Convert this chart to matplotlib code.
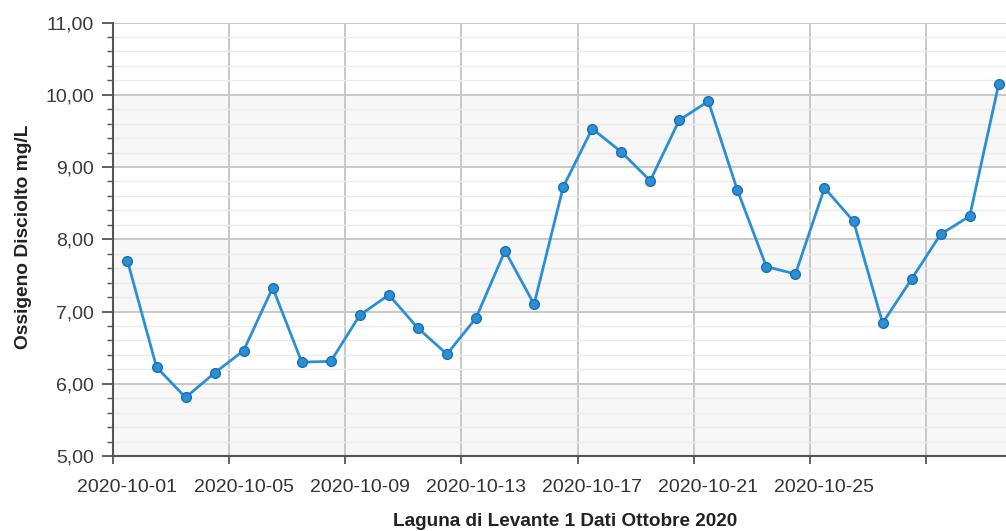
#!/usr/bin/env python3
"""Ossigeno disciolto, Laguna di Levante 1, ottobre 2020."""

import datetime as dt
import matplotlib
matplotlib.use('Agg')
import matplotlib.pyplot as plt
from matplotlib.ticker import FuncFormatter, MultipleLocator

plt.rcParams['font.family'] = ['Liberation Sans', 'DejaVu Sans']

days = list(range(1, 32))
oxygen = [7.70, 6.23, 5.81, 6.15, 6.46, 7.33, 6.30, 6.31, 6.95, 7.23,
          6.77, 6.41, 6.91, 7.84, 7.10, 8.72, 9.53, 9.21, 8.81, 9.65,
          9.91, 8.68, 7.62, 7.52, 8.71, 8.25, 6.84, 7.45, 8.07, 8.32,
          10.15]
tick_days = [1, 5, 9, 13, 17, 21, 25, 29]
tick_labels = ['2020-10-01', '2020-10-05', '2020-10-09', '2020-10-13',
               '2020-10-17', '2020-10-21', '2020-10-25', '']

dates = [dt.datetime(2020, 10, d, 12) for d in days]
tick_dates = [dt.datetime(2020, 10, d) for d in tick_days]
label_dates = [dt.datetime(2020, 10, d, 12) for d in tick_days]

fig = plt.figure(figsize=(10.06, 5.31), dpi=100)
ax = fig.add_axes([0.1123, 0.1412, 0.8877, 0.8164])

ax.set_ylim(5, 11)
ax.set_xlim(dt.datetime(2020, 10, 1), dt.datetime(2020, 10, 31, 18))

# alternating bands
for lo in range(5, 11, 2):
    ax.axhspan(lo, lo + 1, color='#f7f7f7', zorder=0, lw=0)

ax.yaxis.set_major_locator(MultipleLocator(1))
ax.yaxis.set_minor_locator(MultipleLocator(0.2))
ax.yaxis.set_major_formatter(FuncFormatter(lambda v, p: f'{v:.2f}'.replace('.', ',')))

# gridlines/ticks at midnight, labels centred on the day
ax.set_xticks(tick_dates)
ax.set_xticklabels([''] * len(tick_dates))
ax.set_xticks(label_dates, minor=True)
ax.set_xticklabels(tick_labels, minor=True)

ax.grid(which='major', color='#c8c8c8', lw=1.4, zorder=1)
ax.grid(which='minor', axis='y', color='#ebebeb', lw=1.0, zorder=1)
ax.set_axisbelow(True)

ax.plot(dates, oxygen, '-o', color='#2b8fd6', lw=2.0, ms=7,
        mfc='#2b8fd6', mec='#1d6fae', mew=1.0, zorder=3, clip_on=False)

for s in ['top', 'right']:
    ax.spines[s].set_visible(False)
for s in ['left', 'bottom']:
    ax.spines[s].set_color('#555555')
    ax.spines[s].set_linewidth(1.5)

ax.tick_params(axis='y', which='major', length=8, width=1.3, color='#555555',
               labelsize=14, labelcolor='#3a3a3a', pad=5.5)
ax.tick_params(axis='y', which='minor', length=4, width=1.0, color='#555555')
ax.tick_params(axis='x', which='major', length=6, width=1.3, color='#555555')
ax.tick_params(axis='x', which='minor', length=0, labelsize=14,
               labelcolor='#333333', pad=16.5)

ax.set_xlabel('Laguna di Levante 1 Dati Ottobre 2020', fontsize=13.7,
              fontweight='bold', color='#222222')
ax.xaxis.set_label_coords(0.506, -0.132)
ax.set_ylabel('Ossigeno Disciolto mg/L', fontsize=13.8, fontweight='bold',
              color='#222222')
ax.yaxis.set_label_coords(-0.0905, 0.505)

plt.savefig('out.png', dpi=100)
